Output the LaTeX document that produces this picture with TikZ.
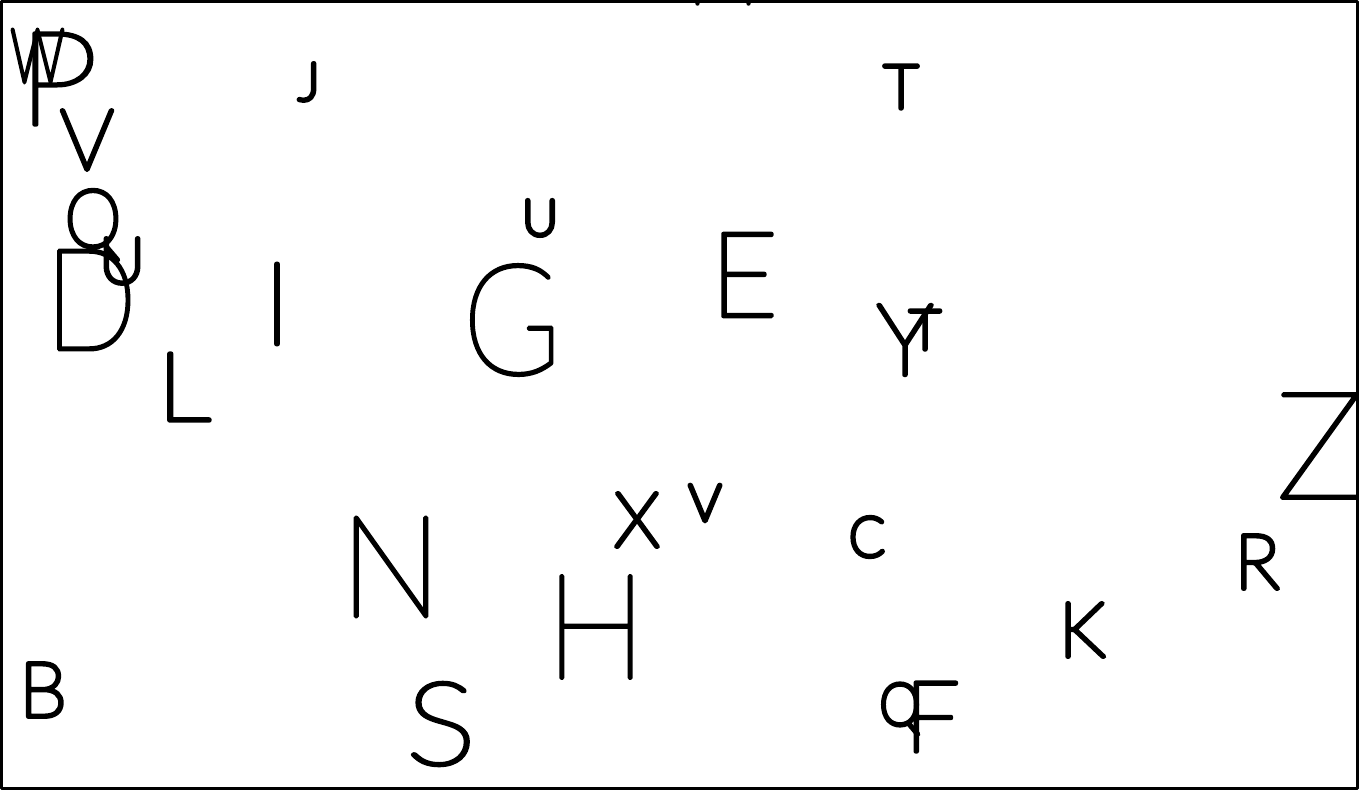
\documentclass[tikz,border=0pt]{standalone}
\usepackage{graphicx}
\usepackage{fontspec}
\IfFontExistsTF{Lato Hairline}{\def\thinname{Lato Hairline}\def\stemk{0.012}}{\def\thinname{Liberation Sans}\def\stemk{0.09}}
\newcommand\thinsel[2]{\edef\tmpx{\noexpand\fontspec{\thinname}[FakeBold=#1]}\tmpx\fontsize{#2pt}{#2pt}\selectfont}
\newcommand\ltr[6][1]{%
  \pgfmathsetmacro\fsz{(#5-4.5)/0.7165}%
  \pgfmathsetmacro\fbd{max(0.01,(5.5-\stemk*\fsz))/\fsz*100}%
  \node[letter, font=\thinsel{\fbd}{\fsz}] (#2) at (#3,#4) {\scalebox{#1}[1]{#6}};%
}
\begin{document}
\begin{tikzpicture}[x=1pt,y=-1pt,line join=round,
  letter/.style={inner sep=0pt,outer sep=0pt,text=black}]
\useasboundingbox (0,0) rectangle (1359,790);
\begin{scope}
\clip (0,0) rectangle (1359,790);
\ltr[0.72]{w}{37.5}{56}{58}{W}
\ltr[1.1]{p}{58}{79}{98}{P}
\ltr{j}{309}{82}{42}{J}
\ltr{t1}{901}{87}{48}{T}
\ltr{v1}{87}{140}{65}{V}
\ltr[0.9]{q1}{93}{225}{62}{Q}
\ltr{u1}{122}{261}{50}{U}
\ltr[0.86]{d}{91}{300}{106}{D}
\ltr{i}{277}{304}{87}{I}
\ltr{u2}{540}{218}{40}{U}
\ltr[0.87]{g}{512}{320}{115}{G}
\ltr{e}{744}{275}{89}{E}
\ltr{y}{905}{340}{76}{Y}
\ltr{t2}{925}{330}{44}{T}
\ltr[1.12]{l}{184}{387}{73}{L}
\ltr{z}{1320}{446}{111}{Z}
\ltr[0.97]{n}{391}{567}{106}{N}
\ltr{x}{637}{520}{59}{X}
\ltr{v2}{705}{503}{41}{V}
\ltr[0.95]{c}{867}{537}{44}{C}
\ltr[0.93]{h}{596}{627}{109}{H}
\ltr{r}{1257}{562}{59}{R}
\ltr{k}{1082}{630}{59}{K}
\ltr{b}{43}{690}{59}{B}
\ltr[1.15]{s}{441}{724}{87}{S}
\ltr[0.9]{q2}{900}{709}{46}{Q}
\ltr{f}{932}{717}{75}{F}
\ltr[0.8]{m}{723}{-31}{75}{M}
\end{scope}
\draw[line width=3pt] (1.5,1.5) rectangle (1357.5,788.5);
\end{tikzpicture}
\end{document}
